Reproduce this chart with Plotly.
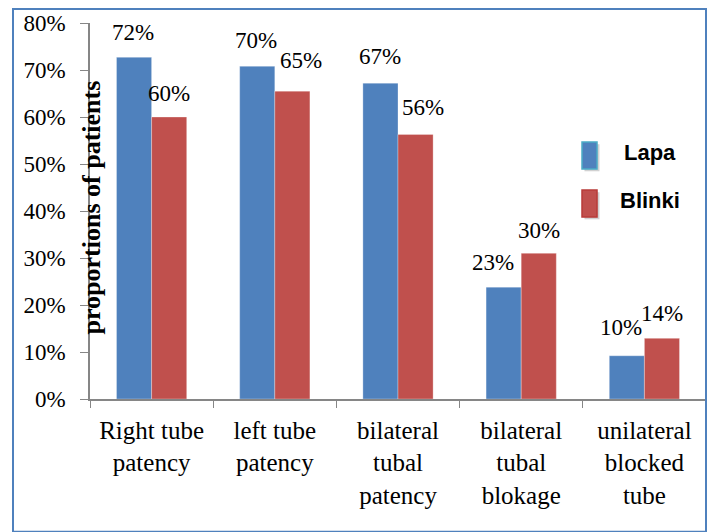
import plotly.graph_objects as go

categories = ["Right tube<br>patency", "left tube<br>patency", "bilateral<br>tubal<br>patency",
              "bilateral<br>tubal<br>blokage", "unilateral<br>blocked<br>tube"]
series_names = ["Lapa", "Blinki"]
lapa_values = [0.727, 0.708, 0.672, 0.238, 0.092]
blinki_values = [0.600, 0.655, 0.563, 0.310, 0.129]
lapa_labels = ["72%", "70%", "67%", "23%", "10%"]
blinki_labels = ["60%", "65%", "56%", "30%", "14%"]
y_ticks = [0, 0.1, 0.2, 0.3, 0.4, 0.5, 0.6, 0.7, 0.8]
y_title = "proportions of patients"

colors = ["#4F81BD", "#C0504D"]
serif = "Liberation Serif"
FS = 23

fig = go.Figure()
for name, vals, col in zip(series_names, [lapa_values, blinki_values], colors):
    fig.add_trace(go.Bar(x=categories, y=vals, name=name,
                         marker=dict(color=col, line=dict(width=0.5, color="rgba(255,255,255,0.6)")),
                         showlegend=False))

# data labels (style offsets only)
lapa_dx = [-1, -1, -1, -11, -6]
blinki_dx = [0, 9, 7, 0, 0]
lapa_dy = [25, 26, 27, 25, 28]
blinki_dy = [24, 31, 27, 23, 25]
for i, c in enumerate(categories):
    fig.add_annotation(x=c, y=lapa_values[i], text=lapa_labels[i], showarrow=False,
                       xshift=-17.5 + lapa_dx[i], yshift=lapa_dy[i], xanchor="center", yanchor="middle",
                       font=dict(family=serif, size=FS, color="black"))
    fig.add_annotation(x=c, y=blinki_values[i], text=blinki_labels[i], showarrow=False,
                       xshift=17.5 + blinki_dx[i], yshift=blinki_dy[i], xanchor="center", yanchor="middle",
                       font=dict(family=serif, size=FS, color="black"))

# y axis title drawn over the axis
fig.add_annotation(xref="paper", yref="paper", x=0.002, y=0.51, text="<b>" + y_title + "</b>",
                   textangle=-90, showarrow=False, xanchor="center", yanchor="middle",
                   font=dict(family=serif, size=26, color="black"))

# manual legend
leg_y = [0.6476, 0.5199]
for name, col, ly in zip(series_names, colors, leg_y):
    fig.add_shape(type="rect", xref="paper", yref="paper", x0=0.7987 + 0.004, x1=0.8231 + 0.004,
                  y0=ly - 0.036 - 0.006, y1=ly + 0.036 - 0.006, fillcolor="rgba(0,0,0,0.18)", line=dict(width=0))
    fig.add_shape(type="rect", xref="paper", yref="paper", x0=0.7987, x1=0.8231,
                  y0=ly - 0.036, y1=ly + 0.036, fillcolor=col,
                  line=dict(width=1.5, color="#4BACC6" if name == "Lapa" else "#B83B38"))
    fig.add_annotation(xref="paper", yref="paper", x=0.909, y=ly + 0.008, text="<b>" + name + "</b>",
                       showarrow=False, xanchor="center", yanchor="middle",
                       font=dict(family="Liberation Sans", size=22, color="black"))

# outer border
fig.add_shape(type="rect", xref="paper", yref="paper", x0=-0.125, x1=1.0, y0=-0.353, y1=1.037,
              line=dict(color="#4F81BD", width=2), fillcolor="rgba(0,0,0,0)")

fig.update_layout(
    width=710, height=532,
    margin=dict(l=90, r=4, t=23, b=133),
    plot_bgcolor="white", paper_bgcolor="white",
    barmode="group", bargap=0.43, bargroupgap=0,
    font=dict(family=serif, size=FS, color="black"),
)
fig.update_xaxes(range=[-0.5, 4.5], showline=True, linecolor="#868686", linewidth=1.5,
                 ticks="outside", tickson="boundaries", ticklen=7, tickcolor="#868686",
                 tickfont=dict(family=serif, size=25, color="black"), showgrid=False,
                 ticklabelstandoff=8)
fig.update_yaxes(range=[0, 0.8], tickvals=y_ticks, tickformat=".0%", showline=True,
                 linecolor="#868686", linewidth=1.5, ticks="outside", ticklen=8, tickcolor="#868686",
                 tickfont=dict(family=serif, size=FS, color="black"), showgrid=False, zeroline=False,
                 ticklabelstandoff=10)

fig.write_html("out.html", config={"displayModeBar": False},
               post_script="document.body.style.margin='0';document.body.style.overflow='hidden';")
